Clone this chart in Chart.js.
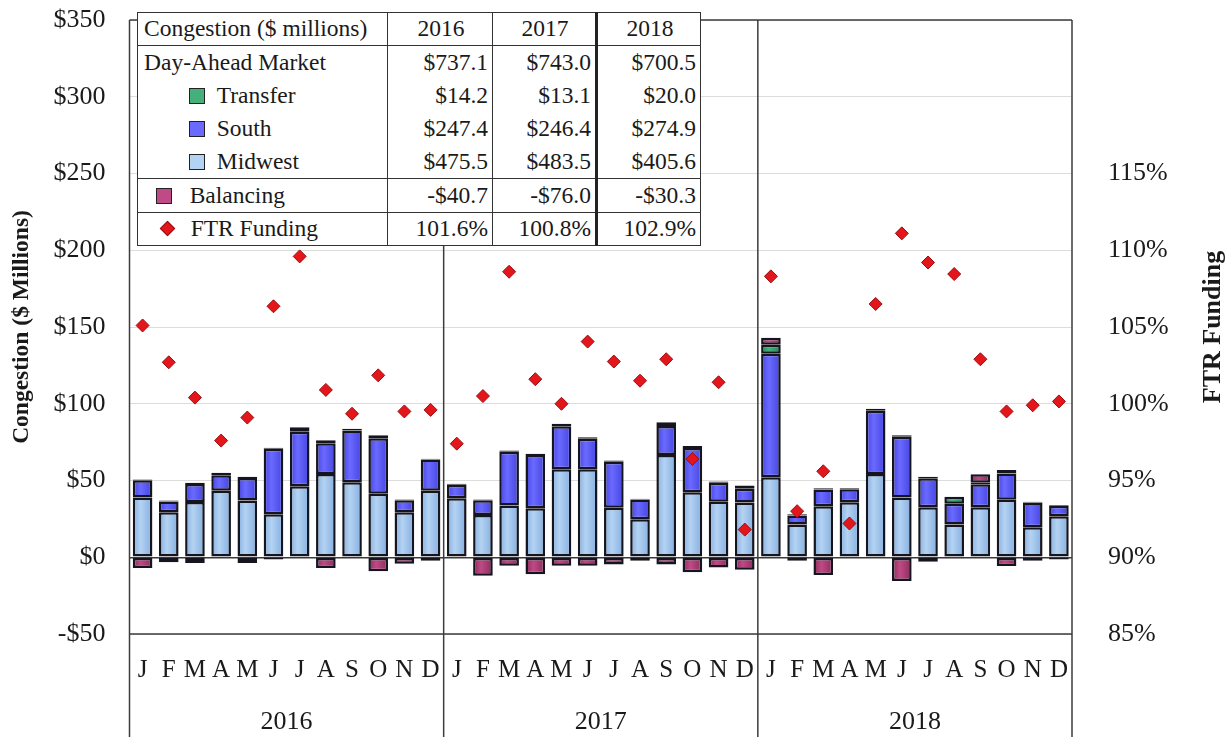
<!DOCTYPE html>
<html>
<head>
<meta charset="utf-8">
<script src="https://cdn.jsdelivr.net/npm/chart.js@4.4.0/dist/chart.umd.min.js"></script>
<style>
  body { margin: 0; background: #fff; }
  .wrap { position: relative; width: 1229px; height: 737px; }
  canvas { display: block; }
  .summary {
    position: absolute; left: 137px; top: 12px;
    border-collapse: collapse; table-layout: fixed; background: #fff;
    font-family: 'Liberation Serif', 'Times New Roman', serif; font-size: 23.5px; color: #1a1a1a;
    border: 1.5px solid #333;
  }
  .summary tr { height: 33.3px; }
  .summary td { padding: 0 4px 0 6px; white-space: nowrap; line-height: 1; border-left: 1.5px solid #333; }
  .summary td.num { text-align: right; }
  .summary td.head { text-align: center; }
  .summary td.thick { border-left: 3px solid #222; }
  .summary tr.line td { border-top: 1.5px solid #333; }
  .mark { display: inline-block; width: 14px; height: 14px; border: 1px solid #222; vertical-align: -1px; }
  .dia { display: inline-block; width: 9px; height: 9px; background: #e3161b; border: 1px solid #9b0d10; transform: rotate(45deg); vertical-align: 2px; }
</style>
</head>
<body>
<div class="wrap">
  <canvas id="chart" width="1229" height="737"></canvas>
  <table class="summary" id="summary"></table>
</div>
<script>
const months = ['J', 'F', 'M', 'A', 'M', 'J', 'J', 'A', 'S', 'O', 'N', 'D']
const years = ['2016', '2017', '2018']

// monthly congestion, $ millions (2016, 2017, 2018)
const midwest = [
  39, 29.3, 36, 43.4, 37, 28, 46.2, 54.3, 48.8, 41.4, 29.3, 43.3,
  38.4, 27.6, 33.7, 31.9, 57.3, 57.3, 32.3, 24.7, 66.6, 42.3, 36.2, 35.7,
  52.1, 21.3, 33.2, 35.8, 54.2, 39, 32.5, 21.3, 32.5, 37.5, 19.5, 26.7
]
const south = [
  11.1, 7.0, 11.7, 10.1, 14.7, 42.7, 35.5, 20, 33.7, 36.1, 7.9, 20.4,
  8.9, 9.6, 35.1, 34.7, 28.1, 19.9, 29.9, 12.9, 18.9, 28.9, 12.4, 9.0,
  80.4, 5.9, 10.9, 8.5, 41.3, 39.5, 19, 13.6, 15, 17.1, 16.2, 6.9
]
const transfer = [
  0.6, 0.7, 0.8, 1.5, 0.8, 0.6, 3, 2, 1.2, 2, 0.5, 0.5,
  0.6, 0.5, 0.8, 0.8, 1.5, 1, 0.8, 0.5, 2.5, 1.2, 0.8, 2.1,
  6, 0.8, 0.8, 0.6, 1.2, 1, 1, 4.5, 1, 2.2, 0.5, 0.4
]
const balancing = [
  -7, -3.2, -3.8, -0.4, -3.8, -1.4, -0.4, -7, -0.4, -9.2, -4.3, -2.2,
  -0.5, -12.1, -5.6, -11, -5.6, -5.6, -4.8, -2.3, -4.8, -9.7, -6.6, -8.2,
  4.5, -2.3, -11.5, -0.4, -0.4, -15.4, -3, -0.6, 5.5, -5.7, -2.3, -1.5
]
// FTR funding, percent
const ftrFunding = [
  105.1, 102.7, 100.4, 97.6, 99.1, 106.35, 109.6, 100.9, 99.35, 101.85, 99.5, 99.6,
  97.4, 100.5, 108.6, 101.6, 100.0, 104.05, 102.75, 101.5, 102.9, 96.4, 101.4, 91.8,
  108.3, 93.0, 95.6, 92.2, 106.5, 111.1, 109.2, 108.45, 102.9, 99.5, 99.9, 100.15
]

// annual summary table
const dayAheadTotal = [737.1, 743.0, 700.5]
const transferTotal = [14.2, 13.1, 20.0]
const southTotal = [247.4, 246.4, 274.9]
const midwestTotal = [475.5, 483.5, 405.6]
const balancingTotal = [-40.7, -76.0, -30.3]
const ftrTotal = [101.6, 100.8, 102.9]

// [edge, centre] shades for the bar gradient
const colors = {
  midwest: ['#84ade0', '#b4d3f2'],
  south: ['#4444e0', '#6a6aff'],
  transfer: ['#23845a', '#45b07c'],
  balancing: ['#8e2a5c', '#bf4a85'],
  ftr: '#e3161b'
}

const serif = "'Liberation Serif', 'Times New Roman', serif"
const labels = years.flatMap(() => months)
const barPct = 0.75

const money = v => (v < 0 ? '-$' : '$') + Math.abs(v).toFixed(1)

function renderTable() {
  const cells = (vals, fmt) => vals.map((v, i) =>
    `<td class="num${i === 2 ? ' thick' : ''}">${fmt(v)}</td>`).join('')
  const sq = c => `<span class="mark" style="background:${c[1]}"></span>`
  const rows = [
    `<tr><td>Congestion ($ millions)</td>${years.map((y, i) => `<td class="head${i === 2 ? ' thick' : ''}">${y}</td>`).join('')}</tr>`,
    `<tr class="line"><td>Day-Ahead Market</td>${cells(dayAheadTotal, money)}</tr>`,
    `<tr><td style="padding-left:51px">${sq(colors.transfer)}&nbsp;&nbsp;Transfer</td>${cells(transferTotal, money)}</tr>`,
    `<tr><td style="padding-left:51px">${sq(colors.south)}&nbsp;&nbsp;South</td>${cells(southTotal, money)}</tr>`,
    `<tr><td style="padding-left:51px">${sq(colors.midwest)}&nbsp;&nbsp;Midwest</td>${cells(midwestTotal, money)}</tr>`,
    `<tr class="line"><td style="padding-left:18px">${sq(colors.balancing)}&nbsp;&nbsp;&nbsp;Balancing</td>${cells(balancingTotal, money)}</tr>`,
    `<tr class="line"><td style="padding-left:24px"><span class="dia"></span>&nbsp;&nbsp;&nbsp;FTR Funding</td>${cells(ftrTotal, v => v.toFixed(1) + '%')}</tr>`
  ]
  const el = document.getElementById('summary')
  el.innerHTML = `<colgroup><col style="width:250px"><col style="width:105px"><col style="width:104px"><col style="width:104px"></colgroup>` + rows.join('')
}

// horizontal shading across each bar, lighter toward the middle
function barFill(shades) {
  return ctx => {
    const x = ctx.chart.scales.x
    if (!x || ctx.dataIndex === undefined) return shades[1]
    const cx = x.getPixelForValue(ctx.dataIndex)
    const half = (x.getPixelForValue(1) - x.getPixelForValue(0)) * barPct / 2
    if (!isFinite(cx) || !isFinite(half) || half <= 0) return shades[1]
    const g = ctx.chart.ctx.createLinearGradient(cx - half, 0, cx + half, 0)
    g.addColorStop(0, shades[0])
    g.addColorStop(0.4, shades[1])
    g.addColorStop(1, shades[0])
    return g
  }
}

const framePlugin = {
  id: 'frame',
  beforeDatasetsDraw(chart) {
    const {ctx, chartArea: a, scales: {x}} = chart
    const bounds = [a.left]
    for (let i = months.length; i < labels.length; i += months.length) {
      bounds.push((x.getPixelForValue(i - 1) + x.getPixelForValue(i)) / 2)
    }
    bounds.push(a.right)
    ctx.save()
    ctx.strokeStyle = '#3c3c3c'
    ctx.lineWidth = 1.5
    ctx.beginPath()
    bounds.forEach(px => {
      ctx.moveTo(px, a.top)
      ctx.lineTo(px, chart.height)
    })
    ctx.moveTo(a.left, a.top)
    ctx.lineTo(a.right, a.top)
    ctx.moveTo(a.left, a.bottom)
    ctx.lineTo(a.right, a.bottom)
    ctx.stroke()

    // right axis title reads bottom-to-top like the left one
    ctx.translate(chart.width - 16, (a.top + a.bottom) / 2)
    ctx.rotate(-Math.PI / 2)
    ctx.font = `bold 26px ${serif}`
    ctx.fillStyle = '#1a1a1a'
    ctx.textAlign = 'center'
    ctx.textBaseline = 'middle'
    ctx.fillText('FTR Funding', 0, 0)
    ctx.restore()
  }
}

const barBase = {
  type: 'bar',
  borderColor: '#15151f',
  borderWidth: 2.5,
  borderSkipped: false,
  barPercentage: barPct,
  categoryPercentage: 1,
  order: 1
}

// keep the value axes from reserving extra room above the plot
const noPad = s => { s.paddingTop = 0; s.paddingBottom = 0 }

renderTable()

new Chart(document.getElementById('chart'), {
  data: {
    labels,
    datasets: [
      {...barBase, label: 'Midwest', data: midwest, backgroundColor: barFill(colors.midwest)},
      {...barBase, label: 'South', data: south, backgroundColor: barFill(colors.south)},
      {...barBase, label: 'Transfer', data: transfer, backgroundColor: barFill(colors.transfer)},
      {...barBase, label: 'Balancing', data: balancing, backgroundColor: barFill(colors.balancing)},
      {
        type: 'line',
        label: 'FTR Funding',
        data: ftrFunding,
        yAxisID: 'y1',
        showLine: false,
        pointStyle: 'rectRot',
        pointRadius: 6.5,
        pointBackgroundColor: colors.ftr,
        pointBorderColor: '#9b0d10',
        pointBorderWidth: 1,
        order: 0
      }
    ]
  },
  options: {
    responsive: false,
    animation: false,
    layout: {padding: {top: 20, left: 0, right: 0, bottom: 0}},
    plugins: {legend: {display: false}, tooltip: {enabled: false}},
    scales: {
      x: {
        stacked: true,
        grid: {display: false},
        border: {display: false},
        ticks: {
          autoSkip: false, maxRotation: 0, minRotation: 0,
          font: {family: serif, size: 25}, color: '#1a1a1a', padding: 13
        },
        afterFit: s => { s.height = 60 }
      },
      year: {
        type: 'category',
        labels: years,
        position: 'bottom',
        offset: true,
        weight: 1,
        grid: {display: false},
        border: {display: false},
        ticks: {font: {family: serif, size: 26}, color: '#1a1a1a', padding: 5},
        afterFit: s => { s.height = 43 }
      },
      y: {
        position: 'left',
        stacked: true,
        min: -50,
        max: 350,
        border: {display: false},
        grid: {
          drawTicks: false,
          color: c => c.tick.value === 0 ? '#3a3a3a' : '#dcdcdc',
          lineWidth: c => c.tick.value === 0 ? 1.5 : 1
        },
        ticks: {
          stepSize: 50,
          padding: 24,
          font: {family: serif, size: 26},
          color: '#1a1a1a',
          callback: v => (v < 0 ? '-$' : '$') + Math.abs(v)
        },
        title: {
          display: true,
          text: 'Congestion ($ Millions)',
          font: {family: serif, size: 23.5, weight: 'bold'},
          color: '#1a1a1a',
          padding: {top: 8, bottom: 0}
        },
        afterFit: s => { s.width = 129.5; noPad(s) }
      },
      y1: {
        position: 'right',
        min: 85,
        max: 125,
        border: {display: false},
        grid: {display: false, drawTicks: false},
        ticks: {
          stepSize: 5,
          padding: 36,
          font: {family: serif, size: 26},
          color: '#1a1a1a',
          callback: v => v > 115 ? '' : v + '%'
        },
        afterFit: s => { s.width = 157; noPad(s) }
      }
    }
  },
  plugins: [framePlugin]
})
</script>
</body>
</html>
